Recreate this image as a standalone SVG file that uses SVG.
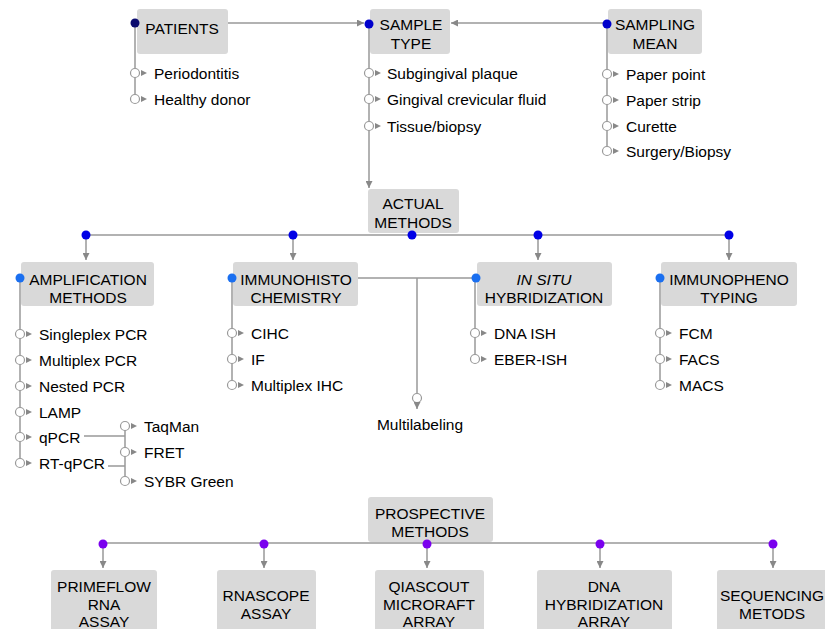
<svg xmlns="http://www.w3.org/2000/svg" xmlns:xlink="http://www.w3.org/1999/xlink" width="825" height="629" viewBox="0 0 825 629">
<style>
text{font-family:"Liberation Sans",Arial,sans-serif;font-size:15.5px;fill:#000}
.t{text-anchor:middle}
.box{fill:#d9d9d9}
.ln{stroke:#999;stroke-width:1.5;fill:none}
.oc{fill:#fff;stroke:#999;stroke-width:1.2}
.tri{fill:#888}
.d0{fill:#0a0a6e}
.d1{fill:#0000cc}
.d2{fill:#0000e6}
.d3{fill:#1a6ff0}
.d4{fill:#7a00ee}
</style>
<defs>
<marker id="ah" viewBox="0 0 10 10" refX="10" refY="5" markerWidth="7" markerHeight="7" orient="auto" markerUnits="userSpaceOnUse"><path d="M0,0 L10,5 L0,10 z" fill="#888"/></marker>
<path id="tri" d="M0,-3 L6,0 L0,3 z" class="tri"/>
<g id="leaf"><circle cx="0" cy="0" r="4.5" class="oc"/><use xlink:href="#tri" x="6" y="0"/></g>
</defs>
<rect width="825" height="629" fill="#fff"/>
<g id="connectors">
<line class="ln" x1="228" y1="23" x2="364" y2="23" marker-end="url(#ah)"/>
<line class="ln" x1="607" y1="23" x2="451" y2="23" marker-end="url(#ah)"/>
<line class="ln" x1="135" y1="23" x2="135" y2="99"/>
<line class="ln" x1="369" y1="24" x2="369" y2="188" marker-end="url(#ah)"/>
<line class="ln" x1="607" y1="24" x2="607" y2="151"/>
<line class="ln" x1="86" y1="235" x2="729" y2="235"/>
<line class="ln" x1="86" y1="235" x2="86" y2="260" marker-end="url(#ah)"/>
<line class="ln" x1="293" y1="235" x2="293" y2="260" marker-end="url(#ah)"/>
<line class="ln" x1="538" y1="235" x2="538" y2="260" marker-end="url(#ah)"/>
<line class="ln" x1="729" y1="235" x2="729" y2="260" marker-end="url(#ah)"/>
<line class="ln" x1="20" y1="278" x2="20" y2="463"/>
<line class="ln" x1="232" y1="278" x2="232" y2="385"/>
<line class="ln" x1="475" y1="278" x2="475" y2="359"/>
<line class="ln" x1="660" y1="278" x2="660" y2="385"/>
<line class="ln" x1="358" y1="278" x2="476" y2="278"/>
<line class="ln" x1="417" y1="278" x2="417" y2="394"/>
<circle cx="417" cy="398" r="4.5" class="oc"/>
<line class="ln" x1="417" y1="402" x2="417" y2="409" marker-end="url(#ah)"/>
<line class="ln" x1="84" y1="436" x2="125" y2="436"/>
<line class="ln" x1="108" y1="466" x2="125" y2="466"/>
<line class="ln" x1="125" y1="426" x2="125" y2="481"/>
<line class="ln" x1="103" y1="543" x2="773" y2="543"/>
<line class="ln" x1="103" y1="543" x2="103" y2="568" marker-end="url(#ah)"/>
<line class="ln" x1="264" y1="543" x2="264" y2="568" marker-end="url(#ah)"/>
<line class="ln" x1="427" y1="543" x2="427" y2="568" marker-end="url(#ah)"/>
<line class="ln" x1="600" y1="543" x2="600" y2="568" marker-end="url(#ah)"/>
<line class="ln" x1="773" y1="543" x2="773" y2="568" marker-end="url(#ah)"/>
</g>
<g id="patients">
<rect class="box" x="137" y="9" width="91" height="45" rx="3"/>
<text class="t" x="182" y="34">PATIENTS</text>
<circle class="d0" cx="135" cy="23" r="4.5"/>
<use xlink:href="#leaf" x="135" y="73"/><text x="154" y="79">Periodontitis</text>
<use xlink:href="#leaf" x="135" y="99"/><text x="154" y="105">Healthy donor</text>
</g>
<g id="sample-type">
<rect class="box" x="370" y="9" width="80" height="45" rx="3"/>
<text class="t" x="411" y="30">SAMPLE</text>
<text class="t" x="411" y="49">TYPE</text>
<circle class="d1" cx="369" cy="24" r="4.5"/>
<use xlink:href="#leaf" x="369" y="73"/><text x="387" y="79">Subgingival plaque</text>
<use xlink:href="#leaf" x="369" y="99"/><text x="387" y="105">Gingival crevicular fluid</text>
<use xlink:href="#leaf" x="369" y="126"/><text x="387" y="132">Tissue/biopsy</text>
</g>
<g id="sampling-mean">
<rect class="box" x="608" y="9" width="94" height="45" rx="3"/>
<text class="t" x="655" y="30">SAMPLING</text>
<text class="t" x="655" y="49">MEAN</text>
<circle class="d1" cx="607" cy="24" r="4.5"/>
<use xlink:href="#leaf" x="607" y="74"/><text x="626" y="80">Paper point</text>
<use xlink:href="#leaf" x="607" y="100"/><text x="626" y="106">Paper strip</text>
<use xlink:href="#leaf" x="607" y="126"/><text x="626" y="132">Curette</text>
<use xlink:href="#leaf" x="607" y="151"/><text x="626" y="157">Surgery/Biopsy</text>
</g>
<g id="actual-methods">
<rect class="box" x="368" y="189" width="91" height="44" rx="3"/>
<text class="t" x="413" y="209">ACTUAL</text>
<text class="t" x="413" y="228">METHODS</text>
<circle class="d2" cx="86" cy="235" r="4.5"/>
<circle class="d2" cx="293" cy="235" r="4.5"/>
<circle class="d2" cx="412" cy="235" r="4.5"/>
<circle class="d2" cx="538" cy="235" r="4.5"/>
<circle class="d2" cx="729" cy="235" r="4.5"/>
</g>
<g id="amplification">
<rect class="box" x="21" y="262" width="133" height="44" rx="3"/>
<text class="t" x="88" y="285">AMPLIFICATION</text>
<text class="t" x="88" y="303">METHODS</text>
<circle class="d3" cx="20" cy="278" r="4.5"/>
<use xlink:href="#leaf" x="20" y="334"/><text x="39" y="340">Singleplex PCR</text>
<use xlink:href="#leaf" x="20" y="360"/><text x="39" y="366">Multiplex PCR</text>
<use xlink:href="#leaf" x="20" y="386"/><text x="39" y="392">Nested PCR</text>
<use xlink:href="#leaf" x="20" y="412"/><text x="39" y="418">LAMP</text>
<use xlink:href="#leaf" x="20" y="437"/><text x="39" y="443">qPCR</text>
<use xlink:href="#leaf" x="20" y="463"/><text x="39" y="469">RT-qPCR</text>
<use xlink:href="#leaf" x="125" y="426"/><text x="144" y="432">TaqMan</text>
<use xlink:href="#leaf" x="125" y="452"/><text x="144" y="458">FRET</text>
<use xlink:href="#leaf" x="125" y="481"/><text x="144" y="487">SYBR Green</text>
</g>
<g id="immunohistochemistry">
<rect class="box" x="233" y="262" width="125" height="44" rx="3"/>
<text class="t" x="296" y="285">IMMUNOHISTO</text>
<text class="t" x="296" y="303">CHEMISTRY</text>
<circle class="d3" cx="232" cy="278" r="4.5"/>
<use xlink:href="#leaf" x="232" y="333"/><text x="251" y="339">CIHC</text>
<use xlink:href="#leaf" x="232" y="359"/><text x="251" y="365">IF</text>
<use xlink:href="#leaf" x="232" y="385"/><text x="251" y="391">Multiplex IHC</text>
<text class="t" x="420" y="430">Multilabeling</text>
</g>
<g id="in-situ">
<rect class="box" x="477" y="262" width="135" height="44" rx="3"/>
<text class="t" x="544" y="285" font-style="italic">IN SITU</text>
<text class="t" x="544" y="303">HYBRIDIZATION</text>
<circle class="d3" cx="476" cy="278" r="4.5"/>
<use xlink:href="#leaf" x="475" y="333"/><text x="494" y="339">DNA ISH</text>
<use xlink:href="#leaf" x="475" y="359"/><text x="494" y="365">EBER-ISH</text>
</g>
<g id="immunophenotyping">
<rect class="box" x="661" y="262" width="136" height="44" rx="3"/>
<text class="t" x="729" y="285">IMMUNOPHENO</text>
<text class="t" x="729" y="303">TYPING</text>
<circle class="d3" cx="660" cy="278" r="4.5"/>
<use xlink:href="#leaf" x="660" y="333"/><text x="679" y="339">FCM</text>
<use xlink:href="#leaf" x="660" y="359"/><text x="679" y="365">FACS</text>
<use xlink:href="#leaf" x="660" y="385"/><text x="679" y="391">MACS</text>
</g>
<g id="prospective-methods">
<rect class="box" x="368" y="497" width="125" height="45" rx="3"/>
<text class="t" x="430" y="519">PROSPECTIVE</text>
<text class="t" x="430" y="537">METHODS</text>
<circle class="d4" cx="103" cy="544" r="4.5"/>
<circle class="d4" cx="264" cy="544" r="4.5"/>
<circle class="d4" cx="427" cy="544" r="4.5"/>
<circle class="d4" cx="600" cy="544" r="4.5"/>
<circle class="d4" cx="773" cy="544" r="4.5"/>
</g>
<g id="primeflow">
<rect class="box" x="51" y="570" width="106" height="70" rx="3"/>
<text class="t" x="104" y="592">PRIMEFLOW</text>
<text class="t" x="104" y="610">RNA</text>
<text class="t" x="104" y="627">ASSAY</text>
</g>
<g id="rnascope">
<rect class="box" x="217" y="570" width="99" height="70" rx="3"/>
<text class="t" x="266" y="601">RNASCOPE</text>
<text class="t" x="266" y="619">ASSAY</text>
</g>
<g id="qiascout">
<rect class="box" x="375" y="570" width="109" height="70" rx="3"/>
<text class="t" x="429" y="592">QIASCOUT</text>
<text class="t" x="429" y="610">MICRORAFT</text>
<text class="t" x="429" y="627">ARRAY</text>
</g>
<g id="dna-hybridization">
<rect class="box" x="537" y="570" width="135" height="70" rx="3"/>
<text class="t" x="604" y="592">DNA</text>
<text class="t" x="604" y="610">HYBRIDIZATION</text>
<text class="t" x="604" y="627">ARRAY</text>
</g>
<g id="sequencing">
<rect class="box" x="717" y="570" width="120" height="70" rx="3"/>
<text class="t" x="772" y="601">SEQUENCING</text>
<text class="t" x="772" y="619">METODS</text>
</g>
</svg>
